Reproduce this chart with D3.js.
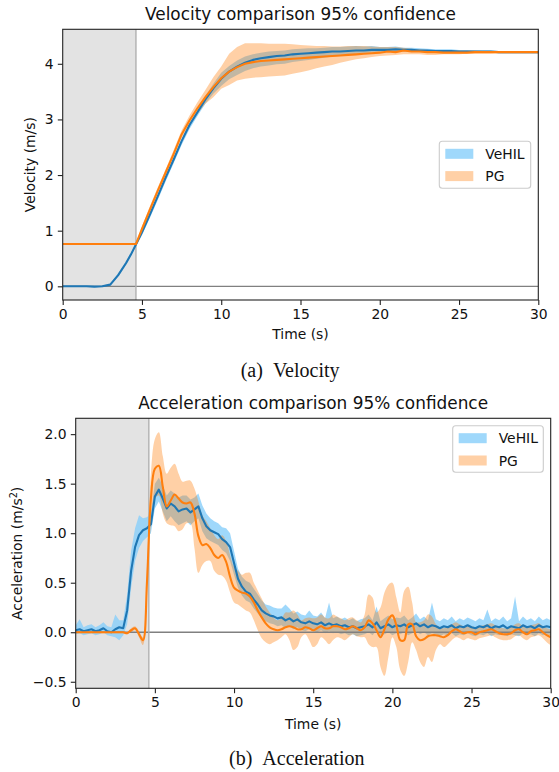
<!DOCTYPE html>
<html><head><meta charset="utf-8">
<script src="https://cdn.jsdelivr.net/npm/d3@7"></script>
<style>body{margin:0;background:#fff} svg{display:block}</style>
</head><body><svg id="c" width="559" height="772"></svg>
<script>
// ---------------- DATA ----------------
const seriesNames = ["VeHIL", "PG"];
const xTickValues = [0, 5, 10, 15, 20, 25, 30];
const velYTicks = [0, 1, 2, 3, 4];
const accYTicks = [-0.5, 0.0, 0.5, 1.0, 1.5, 2.0];
const shadeEnd = 4.62; // end of the grey (warm-up) region, s

// Velocity sample times (s)
const velTime = [0,0.5,1,1.5,2,2.5,3,3.5,4,4.3,4.62,
  5,5.5,6,6.5,7,7.5,8,8.5,9,9.5,
  10,10.5,11,11.5,12,12.5,13,13.5,14,14.5,
  15,15.5,16,16.5,17,17.5,18,18.5,19,19.5,
  20,20.5,21,21.5,22,22.5,23,23.5,24,24.5,
  25,25.5,26,26.5,27,27.5,28,28.5,29,29.5,30];

const vehilVel = [0,0,0,0,-0.005,0,0.03,0.2,0.42,0.57,0.75,
  0.97,1.29,1.62,1.96,2.28,2.61,2.9,3.13,3.36,3.56,
  3.73,3.86,3.95,4.02,4.07,4.10,4.12,4.14,4.15,4.17,
  4.18,4.19,4.20,4.21,4.22,4.22,4.23,4.24,4.24,4.25,
  4.25,4.25,4.26,4.25,4.25,4.24,4.24,4.23,4.23,4.23,
  4.22,4.22,4.22,4.22,4.22,4.21,4.21,4.21,4.21,4.21,4.21];
const vehilVelLo = [-0.01,-0.01,-0.01,-0.01,-0.015,-0.01,0.01,0.17,0.39,0.54,0.72,
  0.92,1.23,1.55,1.89,2.21,2.54,2.83,3.06,3.28,3.46,
  3.6,3.72,3.8,3.87,3.92,3.95,3.97,3.99,4.0,4.03,
  4.05,4.07,4.09,4.11,4.13,4.14,4.16,4.18,4.19,4.2,
  4.21,4.21,4.22,4.22,4.22,4.21,4.21,4.21,4.21,4.21,
  4.2,4.2,4.2,4.2,4.2,4.19,4.19,4.19,4.19,4.19,4.19];
const vehilVelHi = [0.01,0.01,0.01,0.01,0.005,0.01,0.05,0.23,0.45,0.60,0.78,
  1.0,1.32,1.65,1.99,2.31,2.64,2.93,3.17,3.42,3.64,
  3.84,3.96,4.06,4.13,4.17,4.2,4.22,4.23,4.24,4.26,
  4.27,4.28,4.28,4.29,4.3,4.3,4.31,4.32,4.31,4.32,
  4.3,4.3,4.31,4.29,4.29,4.28,4.27,4.26,4.26,4.26,
  4.25,4.25,4.24,4.24,4.24,4.23,4.23,4.23,4.23,4.23,4.23];

const pgVel = [0.76,0.76,0.76,0.76,0.76,0.76,0.76,0.76,0.76,0.76,0.76,
  1.03,1.38,1.72,2.05,2.38,2.73,2.98,3.2,3.4,3.58,
  3.74,3.86,3.94,4.0,4.03,4.05,4.06,4.07,4.08,4.09,
  4.1,4.11,4.12,4.13,4.14,4.15,4.16,4.17,4.18,4.19,
  4.2,4.22,4.21,4.24,4.22,4.22,4.21,4.21,4.2,4.2,
  4.2,4.2,4.21,4.21,4.21,4.21,4.21,4.21,4.21,4.21,4.21];
const pgVelLo = [0.76,0.76,0.76,0.76,0.76,0.76,0.76,0.76,0.76,0.76,0.76,
  0.99,1.33,1.67,2.0,2.32,2.66,2.9,3.1,3.28,3.4,
  3.55,3.62,3.7,3.73,3.75,3.76,3.77,3.78,3.79,3.82,
  3.85,3.88,3.92,3.95,3.98,4.02,4.05,4.08,4.1,4.12,
  4.14,4.15,4.16,4.17,4.17,4.17,4.16,4.16,4.17,4.17,
  4.17,4.18,4.18,4.18,4.18,4.19,4.19,4.19,4.19,4.19,4.19];
const pgVelHi = [0.76,0.76,0.76,0.76,0.76,0.76,0.76,0.76,0.76,0.76,0.76,
  1.08,1.44,1.78,2.11,2.45,2.8,3.07,3.31,3.53,3.76,
  3.95,4.18,4.3,4.37,4.37,4.37,4.36,4.36,4.36,4.35,
  4.34,4.33,4.32,4.32,4.31,4.31,4.32,4.32,4.32,4.31,
  4.3,4.3,4.3,4.29,4.27,4.26,4.25,4.25,4.25,4.24,
  4.24,4.24,4.24,4.23,4.23,4.23,4.23,4.23,4.23,4.23,4.23];

// Acceleration sampled every 0.25 s from 0 to 30 s (one row = one second)
const accStep = 0.25;
const vehilAcc = [
  0.02,0.03,0.01,0.02, 0.03,0.01,0.02,0.04, 0.01,0.00,0.03,0.05,
  0.04,0.22,0.62,0.86, 0.98,1.03,1.05,1.09, 1.37,1.44,1.35,1.25,
  1.30,1.27,1.22,1.24, 1.25,1.21,1.24,1.27, 1.15,1.07,1.03,1.01,
  0.99,0.94,0.91,0.86, 0.70,0.54,0.46,0.41, 0.39,0.33,0.28,0.22,
  0.19,0.17,0.16,0.14, 0.15,0.12,0.14,0.11, 0.13,0.10,0.09,0.11,
  0.09,0.08,0.10,0.07, 0.09,0.07,0.08,0.06, 0.07,0.05,0.06,0.04,
  0.05,0.06,0.08,0.05, 0.10,0.04,0.06,0.08, 0.05,0.07,0.06,0.08,
  0.05,0.07,0.09,0.06, 0.08,0.05,0.07,0.06, 0.04,0.06,0.05,0.07,
  0.04,0.06,0.05,0.07, 0.05,0.04,0.06,0.05, 0.07,0.04,0.06,0.05,
  0.07,0.04,0.06,0.05, 0.04,0.07,0.05,0.06, 0.04,0.07,0.05,0.06,
  0.05];
const vehilAccLo = [
  -0.02,-0.01,-0.03,-0.02, -0.01,-0.03,-0.02,0.00, -0.03,-0.04,-0.05,-0.08,
  -0.03,0.08,0.45,0.72, 0.85,0.92,0.96,1.0, 1.25,1.32,1.22,1.12,
  1.17,1.12,1.08,1.10, 1.12,1.08,1.12,1.15, 1.02,0.95,0.92,0.90,
  0.88,0.83,0.80,0.72, 0.58,0.45,0.37,0.32, 0.30,0.24,0.19,0.14,
  0.11,0.09,0.08,0.06, 0.07,0.04,0.06,0.03, 0.05,0.02,0.01,0.03,
  0.01,0.00,0.02,-0.01, 0.01,-0.01,0.00,-0.02, -0.01,-0.03,-0.02,-0.04,
  -0.03,-0.02,0.00,-0.03, 0.02,-0.04,-0.02,0.00, -0.03,-0.01,-0.02,0.00,
  -0.03,-0.01,0.01,-0.02, 0.00,-0.03,-0.01,-0.02, -0.04,-0.02,-0.03,-0.01,
  -0.04,-0.02,-0.03,-0.01, -0.03,-0.04,-0.02,-0.03, -0.01,-0.04,-0.02,-0.03,
  -0.01,-0.04,-0.02,-0.03, -0.04,-0.01,-0.03,-0.02, -0.04,-0.01,-0.03,-0.02,
  -0.03];
const vehilAccHi = [
  0.07,0.13,0.05,0.07, 0.08,0.05,0.07,0.10, 0.06,0.05,0.18,0.12,
  0.12,0.38,0.82,1.05, 1.18,1.15,1.16,1.20, 1.50,1.56,1.48,1.38,
  1.43,1.40,1.36,1.38, 1.38,1.34,1.36,1.40, 1.28,1.20,1.15,1.12,
  1.10,1.06,1.05,1.00, 0.82,0.64,0.56,0.52, 0.50,0.44,0.38,0.32,
  0.28,0.27,0.25,0.24, 0.24,0.28,0.24,0.19, 0.21,0.18,0.17,0.22,
  0.17,0.16,0.20,0.14, 0.30,0.14,0.16,0.13, 0.15,0.12,0.14,0.11,
  0.13,0.14,0.18,0.12, 0.26,0.11,0.14,0.17, 0.13,0.15,0.14,0.17,
  0.12,0.15,0.19,0.13, 0.16,0.12,0.30,0.13, 0.11,0.14,0.12,0.16,
  0.11,0.14,0.12,0.15, 0.13,0.11,0.14,0.12, 0.23,0.11,0.14,0.12,
  0.16,0.11,0.14,0.36, 0.11,0.16,0.12,0.14, 0.11,0.16,0.12,0.14,
  0.12];

const pgAcc = [
  0,0,0,0, 0,0,0,0, 0,0,0,0,
  0,-0.01,0.02,0.04, -0.02,-0.08,0.5,1.35, 1.65,1.68,1.47,1.27,
  1.33,1.39,1.35,1.31, 1.30,1.31,1.20,0.97, 0.88,0.89,0.85,0.78,
  0.75,0.78,0.71,0.56, 0.45,0.42,0.40,0.39, 0.36,0.30,0.22,0.15,
  0.09,0.05,0.03,0.02, 0.03,0.05,0.06,0.05, 0.03,0.03,0.05,0.04,
  0.02,0.04,0.06,0.04, 0.04,0.06,0.06,0.05, 0.03,0.04,0.06,0.04,
  0.02,0.05,0.12,0.09, 0.02,-0.05,0.03,0.13, 0.17,0.07,-0.08,-0.08,
  0.08,0.08,-0.04,-0.08, -0.07,-0.04,-0.03,-0.03, -0.04,-0.05,-0.03,0.01,
  0.03,0.01,-0.01,0.00, 0.00,-0.02,0.00,0.01, 0.02,0.03,0.01,-0.01,
  -0.02,-0.02,-0.01,0.02, 0.03,0.00,-0.02,0.01, 0.02,0.03,0.00,-0.03,
  -0.05];
const pgAccLo = [
  -0.01,-0.01,-0.01,-0.01, -0.01,-0.01,-0.01,-0.01, -0.01,-0.01,-0.01,-0.01,
  -0.01,-0.02,0.00,0.02, -0.05,-0.13,0.35,1.15, 1.35,1.38,1.20,1.10,
  1.08,1.07,1.02,1.04, 1.10,1.10,0.85,0.60, 0.68,0.72,0.72,0.62,
  0.58,0.57,0.52,0.40, 0.30,0.28,0.25,0.22, 0.20,0.12,0.02,-0.06,
  -0.10,-0.12,-0.10,-0.08, -0.05,-0.02,-0.08,-0.18, -0.15,-0.05,-0.02,-0.08,
  -0.15,-0.12,-0.05,-0.08, -0.12,-0.08,-0.05,-0.06, -0.08,-0.05,-0.02,-0.04,
  -0.05,-0.05,-0.12,-0.15, -0.15,-0.35,-0.44,-0.25, -0.05,-0.15,-0.38,-0.44,
  -0.30,-0.10,-0.18,-0.30, -0.35,-0.25,-0.30,-0.18, -0.12,-0.15,-0.12,-0.08,
  -0.05,-0.06,-0.08,-0.06, -0.07,-0.08,-0.06,-0.05, -0.04,-0.03,-0.05,-0.07,
  -0.08,-0.08,-0.07,-0.04, -0.03,-0.06,-0.08,-0.05, -0.04,-0.03,-0.06,-0.10,
  -0.13];
const pgAccHi = [
  0.01,0.01,0.01,0.01, 0.01,0.01,0.01,0.01, 0.01,0.01,0.01,0.01,
  0.01,0.00,0.04,0.06, 0.01,-0.05,0.65,1.60, 1.95,2.02,1.78,1.60,
  1.66,1.70,1.60,1.52, 1.53,1.53,1.45,1.32, 1.18,1.12,1.05,0.98,
  0.94,0.98,0.92,0.78, 0.66,0.62,0.58,0.60, 0.60,0.50,0.42,0.34,
  0.26,0.20,0.15,0.12, 0.14,0.20,0.20,0.22, 0.18,0.12,0.14,0.15,
  0.14,0.15,0.18,0.15, 0.14,0.18,0.16,0.14, 0.12,0.14,0.15,0.12,
  0.10,0.18,0.38,0.35, 0.20,0.25,0.40,0.48, 0.50,0.35,0.20,0.42,
  0.46,0.30,0.10,0.10, 0.12,0.18,0.16,0.08, 0.05,0.04,0.06,0.08,
  0.10,0.08,0.06,0.06, 0.06,0.05,0.06,0.07, 0.08,0.09,0.07,0.05,
  0.04,0.04,0.05,0.08, 0.09,0.06,0.04,0.07, 0.08,0.09,0.06,0.04,
  0.03];
const accTime = vehilAcc.map((_, i) => i * accStep);

// ---------------- STYLE ----------------
const FONT = "'DejaVu Sans', sans-serif";
const SERIF = "'Liberation Serif', 'Times New Roman', serif";
const blueLine = "#1f77b4", orangeLine = "#ff7f0e";
const blueBand = "#87cefa", blueBandOp = 0.8;
const orangeBand = "#ff7f0e", orangeBandOp = 0.37;

const svg = d3.select("#c");

function panel(o) {
  const x = o.x, y = o.y;
  const [x0, x1] = x.range();
  const [yb, yt] = y.range();
  const clipId = o.id + "-clip";
  svg.append("clipPath").attr("id", clipId)
    .append("rect").attr("x", x0).attr("y", yt).attr("width", x1 - x0).attr("height", yb - yt);
  const g = svg.append("g");
  const plot = g.append("g").attr("clip-path", `url(#${clipId})`);

  // grey warm-up region
  plot.append("rect").attr("x", x(0)).attr("y", yt)
    .attr("width", x(shadeEnd) - x(0)).attr("height", yb - yt).attr("fill", "#e3e3e3");

  // confidence bands
  o.series.forEach(s => {
    const area = d3.area()
      .x((d, i) => x(o.time[i]))
      .y0((d, i) => y(s.lo[i]))
      .y1((d, i) => y(s.hi[i]))
      .curve(s.curve);
    plot.append("path").datum(s.mean).attr("d", area)
      .attr("fill", s.band).attr("fill-opacity", s.bandOp).attr("stroke", "none");
  });

  // zero line and switch line
  plot.append("line").attr("x1", x0).attr("x2", x1).attr("y1", y(0)).attr("y2", y(0))
    .attr("stroke", "#808080").attr("stroke-width", 1.3);
  plot.append("line").attr("x1", x(shadeEnd)).attr("x2", x(shadeEnd)).attr("y1", yt).attr("y2", yb)
    .attr("stroke", "#b0b0b0").attr("stroke-width", 1.4);

  // mean lines
  o.series.forEach(s => {
    const line = d3.line().x((d, i) => x(o.time[i])).y(d => y(d)).curve(s.curve);
    plot.append("path").datum(s.mean).attr("d", line)
      .attr("fill", "none").attr("stroke", s.color).attr("stroke-width", 2.1)
      .attr("stroke-linejoin", "round");
  });

  // axes
  const ax = g.append("g").attr("transform", `translate(0,${yb})`)
    .call(d3.axisBottom(x).tickValues(xTickValues).tickFormat(d3.format("d")).tickSize(4.9).tickPadding(4.2).tickSizeOuter(0));
  const ay = g.append("g").attr("transform", `translate(${x0},0)`)
    .call(d3.axisLeft(y).tickValues(o.yTicks).tickFormat(o.yFmt).tickSize(4.9).tickPadding(4.2).tickSizeOuter(0));
  [ax, ay].forEach(a => {
    a.select(".domain").remove();
    a.selectAll("line").attr("stroke", "#222").attr("stroke-width", 1.1);
    a.selectAll("text").attr("font-family", FONT).attr("font-size", 13.9).attr("fill", "#111");
  });
  // frame
  g.append("rect").attr("x", x0).attr("y", yt).attr("width", x1 - x0).attr("height", yb - yt)
    .attr("fill", "none").attr("stroke", "#222").attr("stroke-width", 1.1);

  // title and labels
  g.append("text").attr("x", (x0 + x1) / 2).attr("y", yt - 9).attr("text-anchor", "middle")
    .attr("font-family", FONT).attr("font-size", 16.9).attr("fill", "#111").text(o.title);
  g.append("text").attr("x", (x0 + x1) / 2).attr("y", o.xlabelY).attr("text-anchor", "middle")
    .attr("font-family", FONT).attr("font-size", 13.9).attr("fill", "#111").text("Time (s)");
  const yl = g.append("text")
    .attr("transform", `translate(${o.ylabelX},${(yb + yt) / 2}) rotate(-90)`)
    .attr("text-anchor", "middle").attr("font-family", FONT).attr("font-size", 13.9).attr("fill", "#111");
  o.ylabel(yl);

  // legend
  const L = o.legend;
  const lg = g.append("g");
  lg.append("rect").attr("x", L.x).attr("y", L.y).attr("width", L.w).attr("height", L.h)
    .attr("rx", 3).attr("fill", "#fff").attr("fill-opacity", 0.8).attr("stroke", "#cccccc").attr("stroke-width", 1.1);
  o.series.forEach((s, i) => {
    const ry = L.y + 7.5 + i * 22.3;
    lg.append("rect").attr("x", L.x + 6).attr("y", ry).attr("width", 28).attr("height", 10)
      .attr("fill", s.band).attr("fill-opacity", s.bandOp);
    lg.append("text").attr("x", L.x + 46).attr("y", ry + 10).attr("font-family", FONT)
      .attr("font-size", 13.9).attr("fill", "#111").text(seriesNames[i]);
  });
}

// ---------------- PANEL A: velocity ----------------
panel({
  id: "vel",
  x: d3.scaleLinear([0, 30], [62.7, 538.3]),
  y: d3.scaleLinear([-0.246, 4.62], [300, 29.3]),
  time: velTime,
  yTicks: velYTicks, yFmt: d3.format("d"),
  title: "Velocity comparison 95% confidence",
  xlabelY: 338.5, ylabelX: 35,
  ylabel: t => t.text("Velocity (m/s)"),
  legend: { x: 439.3, y: 141.3, w: 91.4, h: 47 },
  series: [
    { mean: vehilVel, lo: vehilVelLo, hi: vehilVelHi, color: blueLine, band: blueBand, bandOp: blueBandOp, curve: d3.curveLinear },
    { mean: pgVel, lo: pgVelLo, hi: pgVelHi, color: orangeLine, band: orangeBand, bandOp: orangeBandOp, curve: d3.curveLinear }
  ]
});

// ---------------- PANEL B: acceleration ----------------
panel({
  id: "acc",
  x: d3.scaleLinear([0, 30], [75.7, 550.7]),
  y: d3.scaleLinear([-0.566, 2.16], [688.3, 418.3]),
  time: accTime,
  yTicks: accYTicks, yFmt: d => (d < 0 ? "\u2212" : "") + d3.format(".1f")(Math.abs(d)),
  title: "Acceleration comparison 95% confidence",
  xlabelY: 728.5, ylabelX: 22,
  ylabel: t => {
    t.append("tspan").text("Acceleration (m/s");
    t.append("tspan").attr("dy", -5).attr("font-size", 9.7).text("2");
    t.append("tspan").attr("dy", 5).text(")");
  },
  legend: { x: 452.7, y: 425.7, w: 90.6, h: 46.6 },
  series: [
    { mean: vehilAcc, lo: vehilAccLo, hi: vehilAccHi, color: blueLine, band: blueBand, bandOp: blueBandOp, curve: d3.curveLinear },
    { mean: pgAcc, lo: pgAccLo, hi: pgAccHi, color: orangeLine, band: orangeBand, bandOp: orangeBandOp, curve: d3.curveCatmullRom.alpha(0.5) }
  ]
});

// ---------------- captions ----------------
function caption(label, word, x, y) {
  const t = svg.append("text").attr("x", x).attr("y", y).attr("font-family", SERIF)
    .attr("font-size", 20).attr("fill", "#111");
  t.append("tspan").text(label);
  t.append("tspan").attr("dx", 10).text(word);
}
caption("(a)", "Velocity", 240.7, 376.7);
caption("(b)", "Acceleration", 229, 764.5);
</script></body></html>
